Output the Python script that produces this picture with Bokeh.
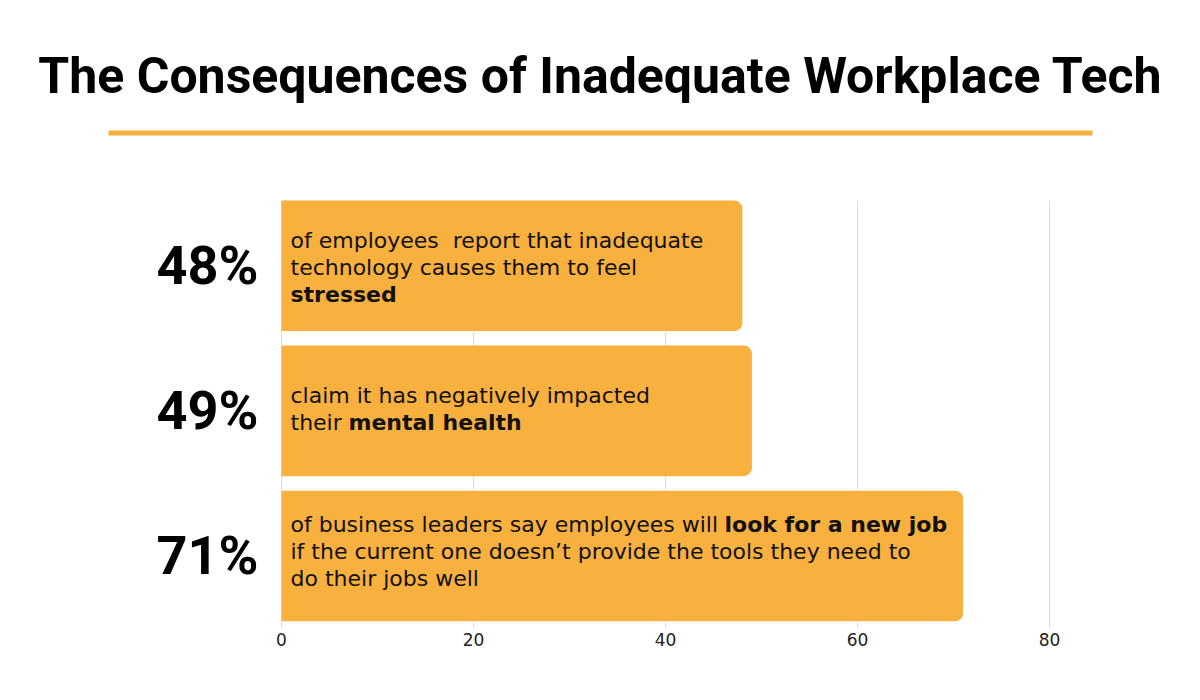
from bokeh.plotting import figure
from bokeh.models import Range1d, ColumnDataSource, FixedTicker
from bokeh.core.properties import value
from bokeh.embed import file_html
from bokeh.resources import INLINE

# ---------------- data ----------------
title_text = "The Consequences of Inadequate Workplace Tech"
values = [48, 49, 71]
pct_labels = ["48%", "49%", "71%"]
positions = [2.5, 1.5, 0.5]          # category centres, top to bottom
x_ticks = [0, 20, 40, 60, 80]
x_max = 80

# body text lines: (category index, text, vertical offset px)
normal_lines = [
    (0, "of employees\u00a0 report that inadequate", -25),
    (0, "technology causes them to feel", 2),
    (1, "claim it has negatively impacted", -15),
    (1, "their ", 12),
    (2, "of business leaders say employees will ", -31),
    (2, "if the current one doesn\u2019t provide the tools they need to", -4),
    (2, "do their jobs well", 23),
]
# (category index, text, vertical offset px, horizontal offset px)
bold_lines = [
    (0, "stressed", 29, 0),
    (1, "mental health", 12, 58),
    (2, "look for a new job", -31, 434),
]

BAR_COLOR = "#F8B03F"
TITLE_FONT = "Roboto"
BODY_FONT = "DejaVu Sans"

# ---------------- layout geometry (pixels) ----------------
W, H = 1200, 700
FRAME_BOTTOM = 628          # px from top where the chart's baseline sits
X0_PX, X1_PX = 281, 1049    # px of x = 0 and x = x_max
PX_PER_X = (X1_PX - X0_PX) / x_max
PX_PER_Y = 145.07
CHART_TOP = 2.95            # top of the chart area in y units

x_start = -X0_PX / PX_PER_X
x_end = (W - X0_PX) / PX_PER_X
y_end = FRAME_BOTTOM / PX_PER_Y


def dx(px):
    return (px - X0_PX) / PX_PER_X


def dy(px):
    return (FRAME_BOTTOM - px) / PX_PER_Y


p = figure(width=W, height=H, x_range=Range1d(x_start, x_end), y_range=Range1d(0, y_end),
           output_backend="svg", toolbar_location=None, y_axis_location=None,
           min_border_left=0, min_border_right=0, min_border_top=0, min_border_bottom=H - FRAME_BOTTOM)
p.outline_line_color = None
p.grid.visible = False
p.xaxis.ticker = FixedTicker(ticks=x_ticks)
p.xaxis.axis_line_color = None
p.xaxis.major_tick_line_color = None
p.xaxis.minor_tick_line_color = None
p.xaxis.major_label_text_font = BODY_FONT
p.xaxis.major_label_text_font_size = "17px"
p.xaxis.major_label_text_color = "#222222"
p.xaxis.major_label_standoff = -2

# vertical gridlines (limited to the chart area)
p.segment(x0=x_ticks, y0=[0] * len(x_ticks), x1=x_ticks, y1=[CHART_TOP] * len(x_ticks),
          line_color="#DDDDDD", line_width=1)

# bars
bars = ColumnDataSource(dict(y=positions, right=values))
p.hbar(y="y", left=0, right="right", height=0.9, source=bars, fill_color=BAR_COLOR,
       line_color=None, border_radius=(0, 8, 8, 0))

# big percentage labels left of the bars
p.text(x=[dx(207)] * len(pct_labels), y=positions, text=pct_labels, y_offset=0,
       text_font=value(TITLE_FONT), text_font_style="bold", text_font_size="54px",
       text_align="center", text_baseline="alphabetic", text_color="#000000")

# body text inside the bars
ns = ColumnDataSource(dict(
    x=[0] * len(normal_lines),
    y=[positions[c] for c, _, _ in normal_lines],
    text=[t for _, t, _ in normal_lines],
    yo=[o for _, _, o in normal_lines],
))
p.text(x="x", y="y", text="text", y_offset="yo", x_offset=9, source=ns, text_font=value(BODY_FONT),
       text_font_size="22px", text_baseline="alphabetic", text_align="left", text_color="#111111")

bs = ColumnDataSource(dict(
    x=[0] * len(bold_lines),
    y=[positions[b[0]] for b in bold_lines],
    text=[b[1] for b in bold_lines],
    yo=[b[2] for b in bold_lines],
    xo=[9 + b[3] for b in bold_lines],
))
p.text(x="x", y="y", text="text", y_offset="yo", x_offset="xo", source=bs, text_font=value(BODY_FONT),
       text_font_size="22px", text_font_style="bold", text_baseline="alphabetic", text_align="left",
       text_color="#111111")

# title and rule
p.text(x=[dx(600)], y=[dy(75)], text=[title_text], text_font=value(TITLE_FONT),
       text_font_style="bold", text_font_size="50px", text_align="center",
       text_baseline="alphabetic", text_color="#000000")
p.segment(x0=[dx(108)], y0=[dy(132.5)], x1=[dx(1092)], y1=[dy(132.5)],
          line_color=BAR_COLOR, line_width=5)

open("out.html", "w").write(file_html(p, INLINE))
